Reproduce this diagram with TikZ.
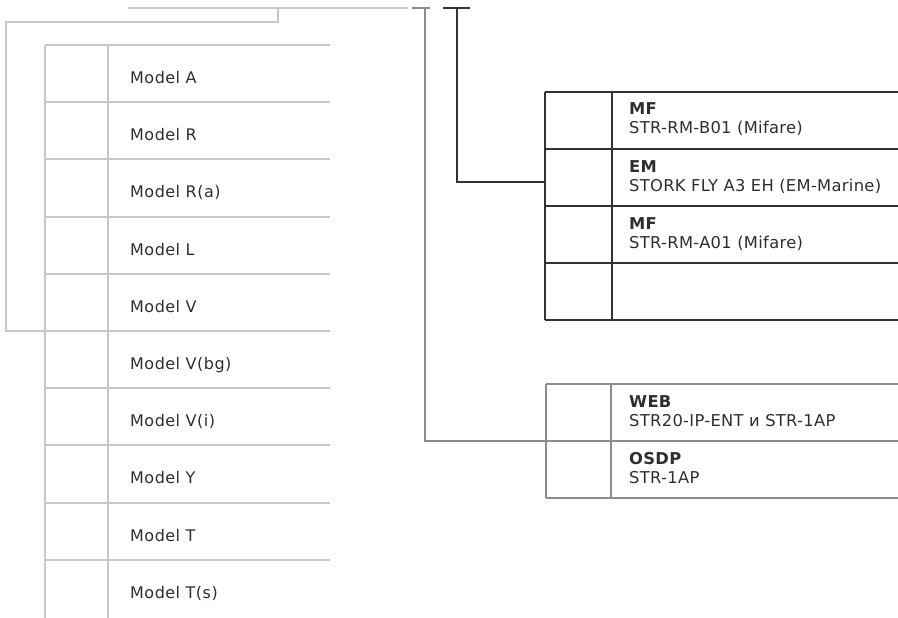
\documentclass[tikz,border=0pt]{standalone}
\usepackage{fontspec}
\setmainfont{DejaVu Sans}
\newfontfamily\entryfont[LetterSpace=2]{DejaVu Sans}
\newfontfamily\modelfont[LetterSpace=3]{DejaVu Sans}
\definecolor{lgray}{HTML}{C8C8C8}
\definecolor{mgray}{HTML}{8C8C8C}
\definecolor{dgray}{HTML}{333333}
\definecolor{txt}{HTML}{2E2E2E}
\tikzset{
  light/.style={draw=lgray,line width=2pt},
  mid/.style={draw=mgray,line width=2pt},
  dark/.style={draw=dgray,line width=2pt},
  model/.style={anchor=base west,inner sep=0pt,text=txt,font=\modelfont\fontsize{16}{18}\selectfont},
  entry/.style={anchor=base west,inner sep=0pt,text=txt,font=\entryfont\fontsize{16.3}{18}\selectfont},
  entryb/.style={entry,font=\entryfont\fontsize{16.3}{18}\selectfont\bfseries},
}
\begin{document}
\begin{tikzpicture}[x=1pt,y=-1pt]
\useasboundingbox (0,0) rectangle (898,618);
% left table
\foreach \i in {0,...,9} {
  \draw[light] (45,{45+57.2*\i}) -- (330,{45+57.2*\i});
}
\draw[light] (45,45) -- (45,618);
\draw[light] (108,45) -- (108,618);
\foreach \t [count=\i from 0] in {Model A,Model R,Model R(a),Model L,Model V,Model V(bg),Model V(i),Model Y,Model T,Model T(s)} {
  \node[model] (m\i) at (130,{45+57.2*\i+38.5}) {\t};
}
% top bracket
\coordinate (b1) at (128,8);
\coordinate (b2) at (408,8);
\coordinate (b3) at (278,8);
\coordinate (b4) at (6,331);
\draw[light] (b1) -- (b2);
\draw[light] (b3) -- (278,22) -- (6,22) -- (b4) -- (45,331);
% dark table
\foreach \y in {92,149,206,263,320} {
  \draw[dark] (545,\y) -- (898,\y);
}
\draw[dark] (545,92) -- (545,320);
\draw[dark] (612,92) -- (612,320);
\node[entryb] (e1a) at (629,114) {MF};
\node[entry] (e1b) at (629,133) {STR-RM-B01 (Mifare)};
\node[entryb] (e2a) at (629,172) {EM};
\node[entry] (e2b) at (629,191) {STORK FLY A3 EH (EM-Marine)};
\node[entryb] (e3a) at (629,229) {MF};
\node[entry] (e3b) at (629,248) {STR-RM-A01 (Mifare)};
\coordinate (dt) at (545,182);
% gray table
\foreach \y in {384,441,498} {
  \draw[mid] (546,\y) -- (898,\y);
}
\draw[mid] (546,384) -- (546,498);
\draw[mid] (611,384) -- (611,498);
\node[entryb] (w1a) at (629,407) {WEB};
\node[entry] (w1b) at (629,426) {STR20-IP-ENT и STR-1AP};
\node[entryb] (w2a) at (629,464) {OSDP};
\node[entry] (w2b) at (629,483) {STR-1AP};
\coordinate (gt) at (546,441);
% connectors
\coordinate (gT) at (425,8);
\coordinate (dT) at (457,8);
\draw[mid] (412,8) -- (430,8);
\draw[mid] (gT) |- (gt);
\draw[dark] (443,8) -- (470,8);
\draw[dark] (dT) |- (dt);
\end{tikzpicture}
\end{document}
